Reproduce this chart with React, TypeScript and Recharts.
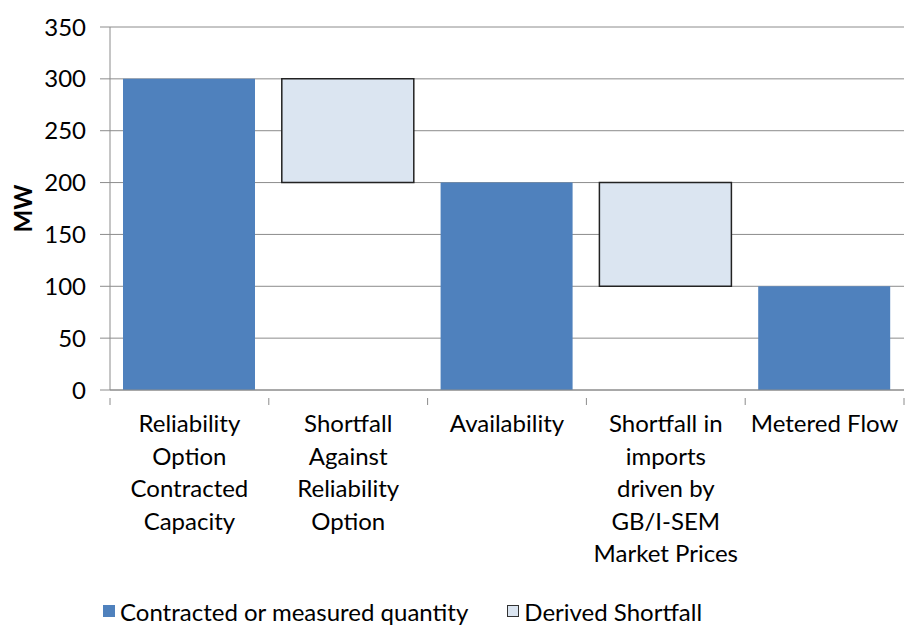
import { BarChart, Bar, XAxis, YAxis, CartesianGrid, Legend } from 'recharts'

// waterfall: invisible base + visible segments, categories in Excel-ish line breaks
const categories = [
  'Reliability\nOption\nContracted\nCapacity',
  'Shortfall\nAgainst\nReliability\nOption',
  'Availability',
  'Shortfall in\nimports\ndriven by\nGB/I-SEM\nMarket Prices',
  'Metered Flow',
]
const baseValues = [0, 200, 0, 100, 0]
const contractedValues = [300, 0, 200, 0, 100]
const shortfallValues = [0, 100, 0, 100, 0]
const yTicks = [0, 50, 100, 150, 200, 250, 300, 350]

const CONTRACTED = 'Contracted or measured quantity'
const SHORTFALL = 'Derived Shortfall'

const FONT = 'Lato, "Liberation Sans", sans-serif'
const BLUE = '#4f81bd'
const LIGHT = '#dbe5f1'
const GRID = '#8c8c8c'

const data = categories.map((name, i) => ({
  name,
  base: baseValues[i],
  contracted: contractedValues[i],
  shortfall: shortfallValues[i],
}))

function CategoryTick(props: any) {
  const { x, y, payload, index, visibleTicksCount } = props
  const half = payload?.offset ?? 79.4
  const lines = String(payload.value).split('\n')
  const last = index === (visibleTicksCount ?? categories.length) - 1
  return (
    <g>
      <line x1={x - half} y1={y} x2={x - half} y2={y + 7} stroke={GRID} />
      {last && <line x1={x + half} y1={y} x2={x + half} y2={y + 7} stroke={GRID} />}
      <text x={x} y={y + 34} textAnchor="middle" fontSize={24} fontFamily={FONT} fill="#000">
        {lines.map((l, k) => (
          <tspan key={k} x={x} dy={k === 0 ? 0 : 32.5}>
            {l}
          </tspan>
        ))}
      </text>
    </g>
  )
}

function renderLegend() {
  const item = (label: string, fill: string, stroke?: string) => (
    <span style={{ display: 'inline-flex', alignItems: 'center' }}>
      <span
        style={{
          display: 'inline-block',
          width: 12,
          height: 12,
          boxSizing: 'border-box',
          background: fill,
          border: stroke ? `1px solid ${stroke}` : 'none',
          marginRight: 5,
        }}
      />
      {label}
    </span>
  )
  return (
    <div
      style={{
        height: 40,
        boxSizing: 'border-box',
        paddingTop: 12,
        paddingLeft: 103,
        display: 'flex',
        alignItems: 'center',
        gap: 39,
        fontFamily: FONT,
        fontSize: 24,
        color: '#000',
      }}
    >
      {item(CONTRACTED, BLUE)}
      {item(SHORTFALL, LIGHT, '#333')}
    </div>
  )
}

export default function App() {
  return (
    <div style={{ position: 'absolute', left: 0, top: 0, background: '#fff' }}>
      <BarChart
        width={906}
        height={625}
        data={data}
        margin={{ top: 27, right: 2, left: 0, bottom: 0 }}
      >
        <CartesianGrid vertical={false} stroke={GRID} strokeWidth={1} />
        <XAxis
          dataKey="name"
          interval={0}
          height={195}
          stroke={GRID}
          tickLine={false}
          tick={<CategoryTick />}
        />
        <YAxis
          width={110}
          domain={[0, 350]}
          ticks={yTicks}
          stroke={GRID}
          tickSize={10}
          tickMargin={14}
          tick={{ fontSize: 24, fontFamily: FONT, fill: '#000' }}
          label={{
            content: (p: any) => {
              const vb = p.viewBox || {}
              return (
                <text
                  transform={`translate(22, ${vb.y + vb.height / 2}) rotate(-90)`}
                  textAnchor="middle"
                  dominantBaseline="central"
                  fontSize={24}
                  fontWeight="bold"
                  fontFamily={FONT}
                  fill="#000"
                >
                  MW
                </text>
              )
            },
          }}
        />
        <Legend verticalAlign="bottom" content={renderLegend} wrapperStyle={{ left: 0, width: 906, bottom: 0 }} />
        <Bar dataKey="base" stackId="w" fill="transparent" legendType="none" isAnimationActive={false} barSize={132} />
        <Bar dataKey="contracted" name={CONTRACTED} stackId="w" fill={BLUE} isAnimationActive={false} barSize={132} />
        <Bar
          dataKey="shortfall"
          name={SHORTFALL}
          stackId="w"
          fill={LIGHT}
          stroke="#222"
          strokeWidth={1.5}
          isAnimationActive={false}
          barSize={132}
        />
      </BarChart>
    </div>
  )
}
